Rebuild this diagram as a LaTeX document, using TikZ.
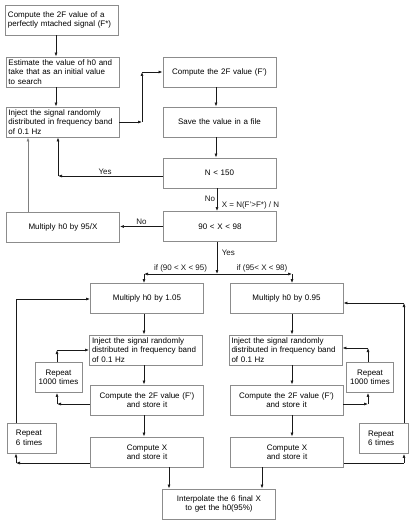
\documentclass[tikz,border=0pt]{standalone}
\usepackage{fontspec}
\setmainfont{Liberation Sans}
\usetikzlibrary{arrows.meta}
\newcommand\flowfont{\fontsize{8}{9.5}\selectfont}
\tikzset{
  procbox/.style={draw=black!45, line width=0.9pt, minimum height=30pt,
    inner xsep=3.5pt, inner ysep=0pt, text width=106pt, align=center, font=\flowfont},
  leftbox/.style={procbox, align=left, text width=108pt, inner xsep=2.5pt},
  repbox/.style={procbox, text width=41pt, inner xsep=3pt},
  sixbox/.style={procbox, text width=31pt, inner xsep=9pt, align=left},
  flowline/.style={black!90, line width=0.7pt},
  flow/.style={flowline, -{Latex[length=4pt,width=3pt]}},
  lbl/.style={font=\flowfont, inner sep=1.5pt},
}
\begin{document}
\begin{tikzpicture}[x=1pt,y=-1pt]
\useasboundingbox (0,0) rectangle (415,526);

% first search
\node[leftbox] (init) at (62,20) {Compute the 2F value of a\\perfectly mtached signal (F*)};
\node[leftbox] (est) at (62.5,72) {Estimate the value of h0 and\\take that as an initial value\\to search};
\node[leftbox] (inj) at (62.5,122) {Inject the signal randomly\\distributed in frequency band\\of 0.1 Hz};
\node[procbox] (cmp) at (219.5,72) {Compute the 2F value (F')};
\node[procbox] (save) at (219.5,122) {Save the value in a file};
\node[procbox] (nchk) at (219.5,173) {N < 150};
\node[procbox] (xchk) at (220,226.5) {90 < X < 98};
\node[procbox] (mul) at (63,227.5) {Multiply h0 by 95/X};

% two refinement branches
\node[procbox] (mulA) at (147,298.5) {Multiply h0 by 1.05};
\node[procbox] (mulB) at (286.5,298.5) {Multiply h0 by 0.95};
\node[leftbox] (injA) at (146,350) {Inject the signal randomly\\distributed in frequency band\\of 0.1 Hz};
\node[leftbox] (injB) at (285.5,350) {Inject the signal randomly\\distributed in frequency band\\of 0.1 Hz};
\node[procbox] (cmpA) at (147,400) {Compute the 2F value (F')\\and store it};
\node[procbox] (cmpB) at (286.5,400) {Compute the 2F value (F')\\and store it};
\node[repbox] (rptA) at (58.5,377.5) {Repeat\\1000 times};
\node[repbox] (rptB) at (370,377.5) {Repeat\\1000 times};
\node[procbox] (xA) at (147,452) {Compute X\\and store it};
\node[procbox] (xB) at (287,452) {Compute X\\and store it};
\node[sixbox] (sixA) at (31.5,438) {Repeat\\6 times};
\node[sixbox] (sixB) at (383.5,438.5) {Repeat\\6 times};
\node[procbox] (interp) at (219,504) {Interpolate the 6 final X\\to get the h0(95\%)};

% columns and corners
\coordinate (colL) at (56,0);
\coordinate (jog) at (142,0);
\coordinate (colM) at (216,0);
\coordinate (colN) at (217,0);
\coordinate (colY) at (58,0);
\coordinate (colB) at (28,0);
\coordinate (yesRow) at (0,176);
\coordinate (split) at (217,274);
\coordinate (colA) at (144,0);
\coordinate (colR) at (292,0);
\coordinate (loopA) at (57,404);
\coordinate (loopAt) at (57,350);
\coordinate (outA) at (16,463);
\coordinate (backA) at (16,299);
\coordinate (loopB) at (368,404);
\coordinate (loopBt) at (368,348);
\coordinate (outB) at (404,463);
\coordinate (backB) at (404,303);
\coordinate (colX1) at (169,0);
\coordinate (colX2) at (262,0);

\draw[flow] (init.south -| colL) -- (est.north -| colL);
\draw[flow] (est.south -| colL) -- (inj.north -| colL);
\draw[flow] (inj.east) -- (inj.east -| jog);
\draw[flow] (inj.east -| jog) -- (cmp.west -| jog);
\draw[flow] (cmp.west -| jog) -- (cmp.west);
\draw[flow] (cmp.south -| colM) -- (save.north -| colM);
\draw[flow] (save.south -| colM) -- (nchk.north -| colM);
\draw[flow] (nchk.south -| colN) -- (xchk.north -| colN)
  node[lbl, pos=0.46, left] {No}
  node[lbl, pos=0.75, right, xshift=3pt] {X = N(F'>F*) / N};
\draw[flow] (nchk.west |- yesRow) -- (colY |- yesRow) node[lbl, pos=0.55, above] {Yes};
\draw[flow] (colY |- yesRow) -- (inj.south -| colY);
\draw[flow, black!50] (mul.north -| colB) -- (inj.south -| colB);
\draw[flow] (xchk.west) -- (xchk.west -| mul.east) node[lbl, midway, above] {No};

\draw[flow] (xchk.south -| split) -- (split) node[lbl, pos=0.35, right, xshift=3pt] {Yes};
\draw[flow] (split) -- (split -| colA) node[lbl, midway, above] {if (90 < X < 95)};
\draw[flow] (split -| colA) -- (mulA.north -| colA);
\draw[flow] (split) -- (split -| colR) node[lbl, pos=0.6, above] {if (95< X < 98)};
\draw[flow] (split -| colR) -- (mulB.north -| colR);

\foreach \a/\b in {mulA/injA, injA/cmpA, cmpA/xA}{
  \draw[flow] (\a.south -| colA) -- (\b.north -| colA);
}
\foreach \a/\b in {mulB/injB, injB/cmpB, cmpB/xB}{
  \draw[flow] (\a.south -| colR) -- (\b.north -| colR);
}

\draw[flow] (cmpA.west |- loopA) -- (loopA);
\draw[flow] (loopA) -- (rptA.south -| loopA);
\draw[flow] (rptA.north -| loopAt) -- (loopAt);
\draw[flow] (loopAt) -- (injA.west |- loopAt);
\draw[flow] (xA.west |- outA) -- (outA);
\draw[flow] (outA) -- (sixA.south -| outA);
\draw[flowline] (sixA.north -| backA) -- (backA);
\draw[flow] (backA) -- (mulA.west |- backA);

\draw[flow] (cmpB.east |- loopB) -- (loopB);
\draw[flow] (loopB) -- (rptB.south -| loopB);
\draw[flow] (rptB.north -| loopBt) -- (loopBt);
\draw[flow] (loopBt) -- (injB.east |- loopBt);
\draw[flowline] (xB.east |- outB) -- (outB);
\draw[flow] (outB) -- (sixB.south -| outB);
\draw[flow] (sixB.north -| backB) -- (backB);
\draw[flow] (backB) -- (mulB.east |- backB);

\draw[flow] (xA.south -| colX1) -- (interp.north -| colX1);
\draw[flow] (xB.south -| colX2) -- (interp.north -| colX2);
\end{tikzpicture}
\end{document}
